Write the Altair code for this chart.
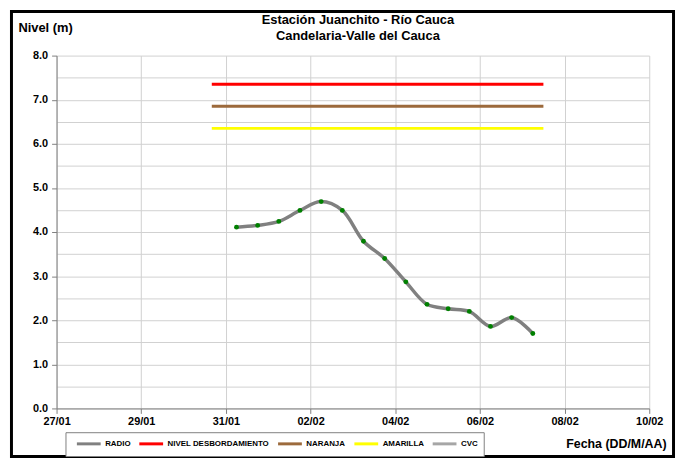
import altair as alt
import pandas as pd

# ---- data ----
radio_times = [
    "2011-01-31T06:00:00Z", "2011-01-31T18:00:00Z", "2011-02-01T06:00:00Z",
    "2011-02-01T18:00:00Z", "2011-02-02T06:00:00Z", "2011-02-02T18:00:00Z",
    "2011-02-03T06:00:00Z", "2011-02-03T18:00:00Z", "2011-02-04T06:00:00Z",
    "2011-02-04T18:00:00Z", "2011-02-05T06:00:00Z", "2011-02-05T18:00:00Z",
    "2011-02-06T06:00:00Z", "2011-02-06T18:00:00Z", "2011-02-07T06:00:00Z",
]
radio_values = [4.11, 4.15, 4.24, 4.49, 4.69, 4.49, 3.79, 3.40, 2.87,
                2.36, 2.26, 2.20, 1.86, 2.06, 1.70]

threshold_names = ["NIVEL DESBORDAMIENTO", "NARANJA", "AMARILLA"]
threshold_values = [7.35, 6.85, 6.35]
threshold_start = "2011-01-30T16:00:00Z"
threshold_end = "2011-02-07T12:00:00Z"

series_names = ["RADIO", "NIVEL DESBORDAMIENTO", "NARANJA", "AMARILLA", "CVC"]
series_colors = ["#808080", "#FF0000", "#9C6A3C", "#FFFF00", "#A6A6A6"]

x_tick_days = [(1, 27), (1, 29), (1, 31), (2, 2), (2, 4), (2, 6), (2, 8), (2, 10)]
y_grid_values = [i * 0.5 for i in range(17)]

title_lines = ["Estación Juanchito - Río Cauca", "Candelaria-Valle del Cauca"]
FONT = "Liberation Sans"

# ---- tables ----
radio_df = pd.DataFrame({"t": radio_times, "v": radio_values, "serie": "RADIO"})
thr_rows = []
for n, v in zip(threshold_names, threshold_values):
    thr_rows.append({"t": threshold_start, "v": v, "serie": n})
    thr_rows.append({"t": threshold_end, "v": v, "serie": n})
thr_df = pd.DataFrame(thr_rows)

x_enc = alt.X(
    "t:T",
    scale=alt.Scale(
        type="utc",
        domain=[alt.DateTime(year=2011, month=1, date=27, utc=True),
                alt.DateTime(year=2011, month=2, date=10, utc=True)],
    ),
    axis=alt.Axis(
        values=[alt.DateTime(year=2011, month=m, date=d, utc=True) for m, d in x_tick_days],
        labelExpr="utcFormat(datum.value, '%d/%m')",
        labelFont=FONT, labelFontSize=11, labelFontWeight="bold", labelColor="black",
        labelFlush=False, labelPadding=2,
        tickSize=5, tickColor="#808080", domainColor="#808080",
        grid=True, gridColor="#d0d0d0",
        title="Fecha (DD/M/AA)", titleFont=FONT, titleFontSize=12.5, titleFontWeight="bold",
        titleColor="black", titleX=615, titleY=39, titleAlign="right",
        titleBaseline="alphabetic",
    ),
)

y_enc = alt.Y(
    "v:Q",
    scale=alt.Scale(domain=[0, 8]),
    axis=alt.Axis(
        values=y_grid_values,
        labelExpr="datum.value % 1 === 0 ? format(datum.value, '.1f') : ''",
        tickOpacity={"condition": {"test": "datum.value % 1 === 0", "value": 1}, "value": 0},
        labelFont=FONT, labelFontSize=11, labelFontWeight="bold", labelColor="black",
        labelPadding=4, tickSize=5, tickColor="#808080", domainColor="#808080",
        grid=True, gridColor="#d0d0d0",
        title="Nivel (m)", titleFont=FONT, titleFontSize=13, titleFontWeight="bold",
        titleColor="black", titleAngle=0, titleX=-39, titleY=-24, titleAlign="left",
        titleBaseline="alphabetic",
    ),
)

color_enc = alt.Color(
    "serie:N",
    scale=alt.Scale(domain=series_names, range=series_colors),
    legend=alt.Legend(
        orient="none", legendX=9, legendY=380, direction="horizontal", columns=5,
        title=None, symbolType="M0,0H6", symbolSize=64, symbolStrokeWidth=3,
        labelFont=FONT, labelFontSize=8, labelFontWeight="bold", labelColor="black",
        labelOffset=23, columnPadding=2, padding=6,
        strokeColor="#808080", fillColor="white",
    ),
)

border = alt.Chart(pd.DataFrame({"k": [0]})).mark_rect(
    fillOpacity=0, stroke="black", strokeWidth=3
).encode(
    x=alt.value(-45.5), x2=alt.value(622.5), y=alt.value(-44.5), y2=alt.value(404.5)
)

thresholds = alt.Chart(thr_df).mark_line(strokeWidth=3).encode(
    x=x_enc, y=y_enc, color=color_enc, detail="serie:N"
)

radio_line = alt.Chart(radio_df).mark_line(
    interpolate="catmull-rom", strokeWidth=3.5
).encode(x=x_enc, y=y_enc, color=color_enc)

radio_points = alt.Chart(radio_df).mark_circle(
    color="#008000", size=24, opacity=1
).encode(x=x_enc, y=y_enc)

chart = alt.layer(border, thresholds, radio_line, radio_points).properties(
    width=598,
    height=356,
    autosize=alt.AutoSizeParams(type="none"),
    padding={"left": 49, "top": 46, "right": 27, "bottom": 50},
    background="white",
    title=alt.TitleParams(
        text=title_lines, font=FONT, fontSize=13, fontWeight="bold", color="black",
        anchor="middle", dx=5, dy=37, offset=4, lineHeight=16,
    ),
).configure_view(stroke=None)

chart.save("out.html", embed_options={"renderer": "svg", "actions": False})
